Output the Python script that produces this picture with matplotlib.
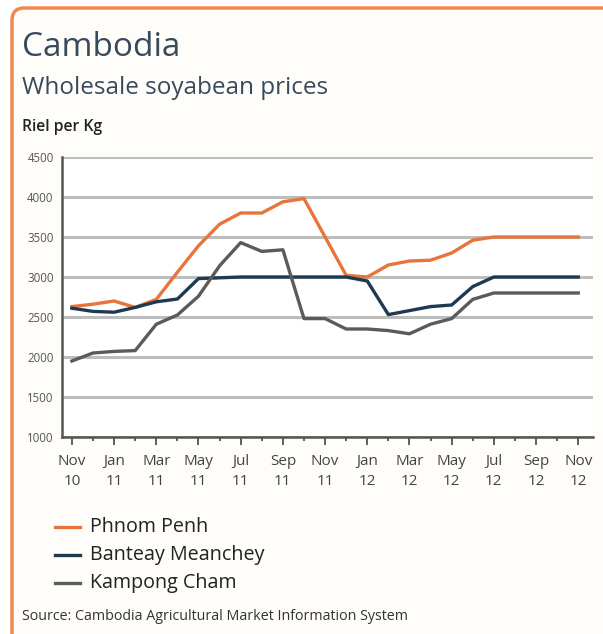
import matplotlib
matplotlib.use("Agg")
import matplotlib.pyplot as plt
from matplotlib.patches import FancyBboxPatch
from matplotlib.ticker import MultipleLocator, FixedLocator

plt.rcParams['font.family'] = ['Open Sans', 'DejaVu Sans']

months = ["Nov\n10", "Jan\n11", "Mar\n11", "May\n11", "Jul\n11", "Sep\n11", "Nov\n11",
          "Jan\n12", "Mar\n12", "May\n12", "Jul\n12", "Sep\n12", "Nov\n12"]
# monthly values Nov 2010 .. Nov 2012 (25 months)
phnom_penh = [2630, 2660, 2700, 2620, 2720, 3060, 3390, 3660, 3800, 3800, 3940, 3980, 3500,
              3020, 3000, 3150, 3200, 3210, 3300, 3460, 3500, 3500, 3500, 3500, 3500]
banteay_meanchey = [2610, 2570, 2560, 2620, 2690, 2725, 2980, 2990, 3000, 3000, 3000, 3000, 3000,
                    3000, 2950, 2530, 2580, 2630, 2650, 2880, 3000, 3000, 3000, 3000, 3000]
kampong_cham = [1950, 2050, 2070, 2080, 2410, 2525, 2760, 3140, 3430, 3320, 3340, 2480, 2480,
                2350, 2350, 2330, 2290, 2410, 2480, 2720, 2800, 2800, 2800, 2800, 2800]
series_names = ["Phnom Penh", "Banteay Meanchey", "Kampong Cham"]
colors = ["#E8743B", "#1E3A52", "#5B5B5B"]

W, H = 603, 634
fig = plt.figure(figsize=(W / 100, H / 100), dpi=100)
fig.patch.set_facecolor("white")

# rounded orange frame (top/left visible)
frame = FancyBboxPatch((12 / W, -40 / H), (W + 40) / W, (H - 8 + 40) / H,
                       boxstyle="round,pad=0,rounding_size=0.02",
                       transform=fig.transFigure, facecolor="#FFFDF9",
                       edgecolor="#EF8A4E", linewidth=2.5, clip_on=False, zorder=-10)
fig.patches.append(frame)

ax = fig.add_axes([62 / W, (H - 437) / H, (593 - 62) / W, 280 / H])
ax.set_facecolor("white")
x = list(range(len(phnom_penh)))
for vals, c, name in zip([phnom_penh, banteay_meanchey, kampong_cham], colors, series_names):
    ax.plot(x, vals, color=c, lw=2.4, label=name, solid_joinstyle="round", zorder=3)

ax.set_xlim(-0.47, 24.7)
ax.set_ylim(1000, 4500)
ax.yaxis.set_major_locator(MultipleLocator(500))
ax.grid(axis="y", color="#BDBDBD", lw=2.2, zorder=0)
ax.set_axisbelow(True)
ax.xaxis.set_major_locator(FixedLocator(list(range(0, 25, 2))))
ax.xaxis.set_minor_locator(FixedLocator(list(range(1, 25, 2))))
ax.set_xticklabels(months)
ax.tick_params(axis="x", which="major", length=6, width=1.2, color="#444444",
               labelsize=11, labelcolor="#444444", pad=6, direction="out")
ax.tick_params(axis="x", which="minor", length=3, width=1.2, color="#444444", direction="out")
ax.tick_params(axis="y", length=0, labelsize=8.3, labelcolor="#555555", pad=6)
for lab in ax.get_xticklabels():
    lab.set_linespacing(1.45)
for s in ["top", "right"]:
    ax.spines[s].set_visible(False)
for s in ["left", "bottom"]:
    ax.spines[s].set_color("#555555")
    ax.spines[s].set_linewidth(1.8)

fig.text(22 / W, 1 - 48 / H, "Cambodia", fontsize=24, color="#37495C", va="center", ha="left")
fig.text(22 / W, 1 - 88 / H, "Wholesale soyabean prices", fontsize=17.5, color="#37495C",
         va="center", ha="left")
fig.text(22 / W, 1 - 127 / H, "Riel per Kg", fontsize=11.3, color="#222222", va="center",
         ha="left", fontweight="semibold")

leg_y = [527, 555, 583]
for c, name, yy in zip(colors, series_names, leg_y):
    fig.add_artist(plt.Line2D([55 / W, 80 / W], [1 - yy / H, 1 - yy / H], color=c, lw=2.4,
                              transform=fig.transFigure))
    fig.text(90 / W, 1 - yy / H, name, fontsize=14.2, color="#222222", va="center", ha="left")

fig.text(22 / W, 1 - 616 / H, "Source: Cambodia Agricultural Market Information System",
         fontsize=10.3, color="#333333", va="center", ha="left")

fig.savefig("out.png", dpi=100, facecolor=fig.get_facecolor())
